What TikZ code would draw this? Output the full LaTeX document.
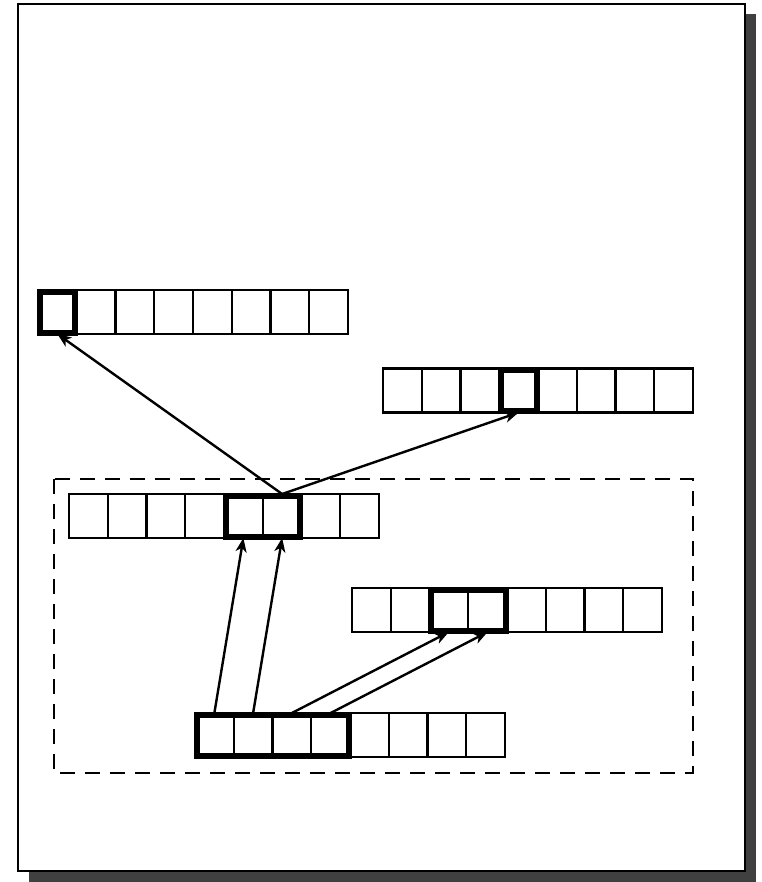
\documentclass[tikz,border=0pt]{standalone}
\usetikzlibrary{arrows.meta}
\begin{document}
\begin{tikzpicture}[x=1pt,y=-1pt,
  cell/.style={draw,line width=2.4pt,minimum width=38.75pt,minimum height=44pt,inner sep=0pt,outer sep=0pt},
  hl/.style={line width=6pt},
  arr/.style={line width=2.4pt,-{Stealth[length=14pt,width=11pt,inset=4pt]}}]
\useasboundingbox (0,0) rectangle (761,882);
\fill[black!75] (29,14) rectangle (756,882);
\draw[line width=2.8pt,fill=white] (18,4) rectangle (745,871);
\draw[line width=2.4pt,dash pattern=on 15pt off 10pt] (54,479) rectangle (693,773);
\foreach \i in {0,...,7}{
  \node[cell] (A\i) at ({57.375+38.75*\i},312) {};
  \node[cell] (B\i) at ({402.375+38.75*\i},390.5) {};
  \node[cell] (C\i) at ({88.375+38.75*\i},516) {};
  \node[cell] (D\i) at ({371.375+38.75*\i},610) {};
  \node[cell] (E\i) at ({214.375+38.75*\i},735) {};
}
\draw[hl] ([shift={(1.5,1.5)}]A0.north west) rectangle ([shift={(-1.5,-1.5)}]A0.south east);
\draw[hl] ([shift={(1.5,1.5)}]B3.north west) rectangle ([shift={(-1.5,-1.5)}]B3.south east);
\draw[hl] ([shift={(1.5,1.5)}]C4.north west) rectangle ([shift={(-1.5,-1.5)}]C5.south east);
\draw[hl] ([shift={(1.5,1.5)}]D2.north west) rectangle ([shift={(-1.5,-1.5)}]D3.south east);
\draw[hl] ([shift={(1.5,1.5)}]E0.north west) rectangle ([shift={(-1.5,-1.5)}]E3.south east);
\draw[arr] (C5.north) -- (A0.south);
\draw[arr] (C5.north) -- (B3.south);
\draw[arr] (E0.north) -- (C4.south);
\draw[arr] (E1.north) -- (C5.south);
\draw[arr] (E2.north) -- (D2.south);
\draw[arr] (E3.north) -- (D3.south);
\end{tikzpicture}
\end{document}
